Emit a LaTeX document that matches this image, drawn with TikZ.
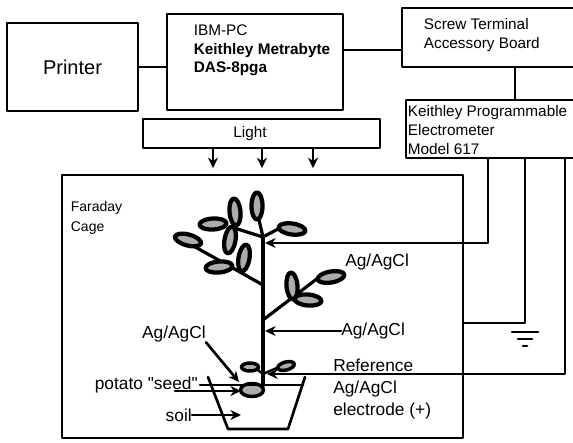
\documentclass[tikz,border=0pt]{standalone}
\usepackage{fontspec}
\setmainfont{Liberation Sans}
\usetikzlibrary{arrows.meta}

\tikzset{
  box/.style={draw, line width=2.1pt, inner sep=0pt},
  wire/.style={line width=2pt},
  thinwire/.style={line width=1.1pt},
  stem/.style={line width=2.4pt},
  leaf/.style={draw, fill=gray!65, line width=3.2pt},
  boxtext/.style={font=\fontsize{11.5}{14}\selectfont, align=left, inner sep=0pt},
  lbl/.style={font=\fontsize{13}{16.5}\selectfont, align=left, inner sep=0pt},
}

% leaf: optional angle, centre
\newcommand{\leaf}[2][0]{\draw[leaf, rotate around={#1:(#2)}] (#2) ellipse (13.5 and 5.5);}
\newcommand{\budleaf}[2][0]{\draw[leaf, line width=2.6pt, rotate around={#1:(#2)}] (#2) ellipse (8.5 and 4);}

\begin{document}
\begin{tikzpicture}[x=0.75pt, y=-0.75pt, line cap=round, line join=round,
    >={Stealth[length=8pt,width=7.5pt]}]
  \useasboundingbox (0,0) rectangle (573,442);

  % instruments
  \node[box, minimum width=98.25pt, minimum height=66pt,
        font=\fontsize{15}{18}\selectfont] (printer) at (72.5,67) {Printer};
  \node[box, minimum width=132pt, minimum height=72pt] (pc) at (255,62) {};
  \node[boxtext, anchor=north west] (pctext) at ([shift={(28,12)}]pc.north west)
    {IBM-PC\\\textbf{Keithley Metrabyte}\\\textbf{DAS-8pga}};
  \node[box, minimum width=137.25pt, minimum height=44.25pt] (screw) at (493.5,37.5) {};
  \node[boxtext, anchor=north west] (screwtext) at ([shift={(23,12)}]screw.north west)
    {Screw Terminal\\Accessory Board};
  \node[box, minimum width=134.25pt, minimum height=43.5pt] (meter) at (495.5,129) {};
  \node[boxtext, anchor=north west] (metertext) at ([shift={(3,7)}]meter.north west)
    {Keithley Programmable\\Electrometer\\Model 617};
  \node[box, minimum width=177.75pt, minimum height=21.75pt] (light) at (261.5,133.5) {};
  \node[boxtext] (lighttext) at (250,134) {Light};
  \node[box, minimum width=300.75pt, minimum height=197.25pt] (cage) at (262.5,306.5) {};
  \node[boxtext, anchor=north west, font=\fontsize{10.5}{15}\selectfont] (cagetext)
    at ([shift={(10,27)}]cage.north west) {Faraday\\Cage};

  \draw[wire] (printer.east) -- (printer.east -| pc.west);
  \draw[wire] (pc.east |- 0,50) -- (screw.west |- 0,50);
  \draw[wire] (screw.south -| 515,0) -- (meter.north -| 515,0);

  % light onto the cage
  \foreach \x in {213,262,313}
    \draw[wire,->] (light.south -| \x,0) -- ([yshift=4pt]cage.north -| \x,0);

  % plant
  \coordinate (base) at (263,386);
  \coordinate (fork) at (263,237);
  \draw[stem] (base) -- (fork);
  \draw[stem] (fork) -- (259,220);
  \draw[stem] (fork) -- (278,229);
  \draw[stem] (fork) -- (231,227);
  \draw[stem] (263,285) -- (181,239);
  \draw[stem] (263,320) -- (318,278);
  \draw[stem, line width=1.8pt] (263,374) -- (254,367);
  \draw[stem, line width=1.8pt] (263,374) -- (279,367);

  \leaf[90]{257,206}
  \leaf[-8]{292,229}
  \leaf[3]{213,224}
  \leaf[95]{235,212}
  \leaf[80]{230,240}
  \leaf[-15]{188,240}
  \leaf[80]{244,258}
  \leaf[5]{219,267}
  \leaf[95]{292,286}
  \leaf[-5]{308,300}
  \leaf[10]{331,277}
  \budleaf{250,367}
  \budleaf[15]{286,366}
  \draw[leaf, line width=2.6pt] (252,390) ellipse (11.5 and 6.5);

  % pot
  \draw[wire] (208,377) -- (228,429) -- (288,429) -- (305,377);
  \draw[wire] (200,385) -- (303,385);

  % electrodes
  \coordinate (tipA) at (265,243);
  \coordinate (tipB) at (265,331);
  \coordinate (tipC) at (267,374);
  \coordinate (seedtip) at (239,382);
  \coordinate (seedtipB) at (241,391);
  \coordinate (soiltip) at (241,415);
  \coordinate (gndtap) at (525,323);

  \draw[wire,->] (meter.south -| 488,0) |- (tipA);
  \node[lbl, anchor=west] (agA) at (345,262) {Ag/AgCl};
  \node[lbl, anchor=west] (agB) at (341,331) {Ag/AgCl};
  \draw[wire,->] (agB.west) -- (tipB);
  \draw[wire,->] (meter.south -| 565,0) |- (tipC);
  \node[lbl, anchor=north west] (ref) at (333,359)
    {Reference\\Ag/AgCl\\electrode (+)};

  \node[lbl, anchor=east] (agC) at (206,334) {Ag/AgCl};
  \draw[wire,->] (agC.south east) -- (seedtip);
  \node[lbl, anchor=east] (potato) at (198,385) {potato \textquotedbl seed\textquotedbl};
  \draw[wire,->] (potato.east |- seedtipB) ++(-23,0) -- (seedtipB);
  \node[lbl, anchor=east] (soil) at (192,415) {soil};
  \draw[wire,->] (soil.east) -- (soiltip);

  % ground
  \draw[thinwire] (meter.south -| gndtap) |- (cage.east |- gndtap);
  \draw[line width=2.2pt] ([shift={(-13,9)}]gndtap) -- ([shift={(13,9)}]gndtap);
  \draw[line width=2.2pt] ([shift={(-7,16)}]gndtap) -- ([shift={(7,16)}]gndtap);
  \draw[line width=2.2pt] ([shift={(-2,23)}]gndtap) -- ([shift={(2,23)}]gndtap);
\end{tikzpicture}
\end{document}
